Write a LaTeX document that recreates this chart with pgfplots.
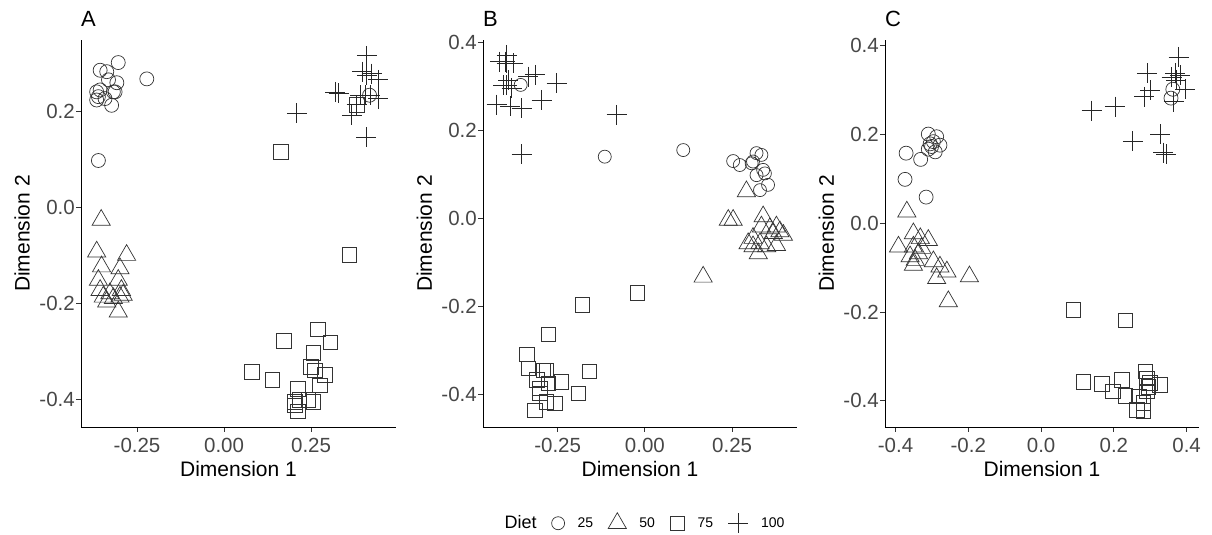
\documentclass[border=0pt]{standalone}
\usepackage{fontspec}
\setmainfont{Liberation Sans}
\usepackage{pgfplots}
\pgfplotsset{compat=1.18}

\pgfplotsset{
  dimpanel/.style={
    scale only axis, height=387pt,
    axis x line*=bottom, axis y line*=left,
    axis line style={black, line width=0.8pt},
    tick style={black!80, line width=0.8pt},
    tick align=outside, major tick length=5pt,
    tick label style={font=\fontsize{20.5}{22}\selectfont, text=black!72, inner sep=1pt},
    xticklabel style={yshift=-5pt},
    label style={font=\fontsize{21}{23}\selectfont},
    xlabel={Dimension 1}, ylabel={Dimension 2},
    xlabel style={at={(axis description cs:0.5,-0.1085)}, anchor=center},
    ylabel style={at={(axis description cs:-0.187,0.5)}, anchor=center},
    title style={at={(axis description cs:0,1.0205)}, anchor=base west, inner sep=0pt, font=\fontsize{22}{24}\selectfont},
    ytick={-0.4,-0.2,0,0.2,0.4}, yticklabels={-0.4,-0.2,0.0,0.2,0.4},
    clip=false,
  },
  d25/.style={only marks, mark=o, mark size=7pt, draw=black!80, line width=0.7pt},
  d50/.style={only marks, mark=triangle, mark size=10.5pt, draw=black!80, line width=0.7pt},
  d75/.style={only marks, mark=square, mark size=7.3pt, draw=black!80, line width=0.7pt},
  d100/.style={only marks, mark=+, mark size=10pt, draw=black!85, line width=0.7pt},
}

\begin{document}
\begin{tikzpicture}
\useasboundingbox (0,0) rectangle (1212pt,535pt);

% panel A
\begin{axis}[dimpanel, width=315pt, at={(81pt,108pt)}, anchor=south west,
  title={A},
  xmin=-0.411, xmax=0.494, ymin=-0.458, ymax=0.348,
  xtick={-0.25,0,0.25}, xticklabels={-0.25,0.00,0.25},
]
\addplot[d25] coordinates {(-0.304,0.301) (-0.356,0.285) (-0.337,0.282) (-0.332,0.265) (-0.308,0.259)
  (-0.222,0.267) (-0.366,0.240) (-0.356,0.244) (-0.318,0.240) (-0.313,0.240) (-0.366,0.223)
  (-0.361,0.230) (-0.342,0.226) (-0.323,0.212) (-0.361,0.097) (0.418,0.233)};
\addplot[d50] coordinates {(-0.353,-0.027) (-0.366,-0.093) (-0.280,-0.100) (-0.352,-0.124) (-0.299,-0.128)
  (-0.361,-0.152) (-0.304,-0.152) (-0.356,-0.173) (-0.328,-0.180) (-0.295,-0.173) (-0.290,-0.183)
  (-0.337,-0.197) (-0.318,-0.190) (-0.304,-0.218) (-0.347,-0.187) (-0.299,-0.187)};
\addplot[d75] coordinates {(0.164,0.115) (0.360,-0.099) (0.269,-0.255) (0.172,-0.278) (0.305,-0.282)
  (0.257,-0.303) (0.250,-0.333) (0.260,-0.340) (0.290,-0.350) (0.276,-0.371) (0.080,-0.343)
  (0.139,-0.360) (0.212,-0.378) (0.257,-0.406) (0.242,-0.402) (0.216,-0.402) (0.204,-0.413)
  (0.212,-0.425) (0.204,-0.406) (0.381,0.213)};
\addplot[d100] coordinates {(0.209,0.195) (0.410,0.315) (0.396,0.282) (0.424,0.278) (0.443,0.265)
  (0.319,0.240) (0.329,0.237) (0.405,0.233) (0.420,0.233) (0.443,0.226) (0.381,0.213)
  (0.367,0.192) (0.408,0.145) (0.410,0.275) (0.391,0.233)};
\end{axis}

% panel B
\begin{axis}[dimpanel, width=314pt, at={(483pt,108pt)}, anchor=south west,
  title={B},
  xmin=-0.464, xmax=0.436, ymin=-0.474, ymax=0.405,
  xtick={-0.25,0,0.25}, xticklabels={-0.25,0.00,0.25},
  legend style={at={(axis description cs:0.497,-0.248)}, anchor=center, draw=none,
    legend columns=-1, font=\fontsize{14}{16}\selectfont,
    /tikz/every odd column/.append style={column sep=11pt},
    /tikz/every even column/.append style={column sep=13pt}},
  legend image code/.code={\draw[mark repeat=2,mark phase=2,#1] plot coordinates {(0pt,0pt) (10pt,0pt) (20pt,0pt)};},
]
\addlegendimage{empty legend}
\addlegendentry{\fontsize{18}{20}\selectfont Diet}
\addplot[d25, mark size=6.5pt] coordinates {(-0.356,0.303) (-0.115,0.140) (0.110,0.155) (0.253,0.130) (0.272,0.121)
  (0.310,0.129) (0.320,0.148) (0.334,0.144) (0.339,0.110) (0.320,0.098) (0.353,0.076)
  (0.330,0.064) (0.306,0.125) (0.344,0.102)};
\addlegendentry{25}
\addplot[d50] coordinates {(0.291,0.061) (0.239,-0.004) (0.253,-0.004) (0.339,0.004) (0.334,-0.019)
  (0.358,-0.023) (0.377,-0.019) (0.387,-0.030) (0.397,-0.038) (0.368,-0.034) (0.310,-0.045)
  (0.296,-0.057) (0.330,-0.057) (0.349,-0.064) (0.377,-0.061) (0.325,-0.080) (0.167,-0.133)
  (0.310,-0.064)};
\addlegendentry{50}
\addplot[d75] coordinates {(-0.179,-0.197) (-0.022,-0.169) (-0.277,-0.264) (-0.339,-0.309) (-0.334,-0.341)
  (-0.291,-0.345) (-0.282,-0.345) (-0.159,-0.348) (-0.239,-0.371) (-0.310,-0.367) (-0.277,-0.375)
  (-0.191,-0.398) (-0.301,-0.398) (-0.282,-0.417) (-0.258,-0.420) (-0.315,-0.436) (-0.301,-0.386)};
\addlegendentry{75}
\addplot[d100] coordinates {(-0.396,0.371) (-0.401,0.356) (-0.396,0.352) (-0.416,0.356) (-0.377,0.352)
  (-0.315,0.326) (-0.334,0.322) (-0.253,0.307) (-0.396,0.303) (-0.406,0.303) (-0.382,0.295)
  (-0.296,0.269) (-0.425,0.258) (-0.387,0.254) (-0.353,0.250) (-0.081,0.235) (-0.353,0.146)
  (-0.392,0.314)};
\addlegendentry{100}
\end{axis}

% panel C
\begin{axis}[dimpanel, width=314pt, at={(885pt,108pt)}, anchor=south west,
  title={C},
  xmin=-0.429, xmax=0.434, ymin=-0.459, ymax=0.413,
  xtick={-0.4,-0.2,0,0.2,0.4}, xticklabels={-0.4,-0.2,0.0,0.2,0.4},
]
\addplot[d25] coordinates {(-0.310,0.201) (-0.287,0.195) (-0.296,0.184) (-0.278,0.176) (-0.301,0.173)
  (-0.310,0.167) (-0.291,0.161) (-0.371,0.158) (-0.331,0.144) (-0.374,0.099) (-0.316,0.059)
  (0.362,0.302) (0.357,0.282) (-0.305,0.179)};
\addplot[d50] coordinates {(-0.369,0.026) (-0.392,-0.053) (-0.351,-0.023) (-0.310,-0.038) (-0.332,-0.034)
  (-0.351,-0.053) (-0.337,-0.068) (-0.360,-0.075) (-0.351,-0.094) (-0.346,-0.083) (-0.296,-0.086)
  (-0.278,-0.098) (-0.259,-0.109) (-0.287,-0.124) (-0.197,-0.120) (-0.255,-0.176) (-0.328,-0.056)};
\addplot[d75] coordinates {(0.089,-0.195) (0.231,-0.219) (0.286,-0.334) (0.291,-0.349) (0.116,-0.357)
  (0.167,-0.362) (0.222,-0.353) (0.299,-0.359) (0.327,-0.364) (0.198,-0.379) (0.231,-0.389)
  (0.268,-0.390) (0.291,-0.379) (0.295,-0.368) (0.281,-0.405) (0.263,-0.420) (0.281,-0.422)};
\addplot[d100] coordinates {(0.378,0.375) (0.291,0.338) (0.368,0.338) (0.382,0.334) (0.359,0.329)
  (0.300,0.300) (0.396,0.302) (0.284,0.285) (0.364,0.274) (0.139,0.254) (0.203,0.263)
  (0.327,0.201) (0.252,0.185) (0.336,0.159) (0.344,0.156) (0.371,0.323)};
\end{axis}
\end{tikzpicture}
\end{document}
